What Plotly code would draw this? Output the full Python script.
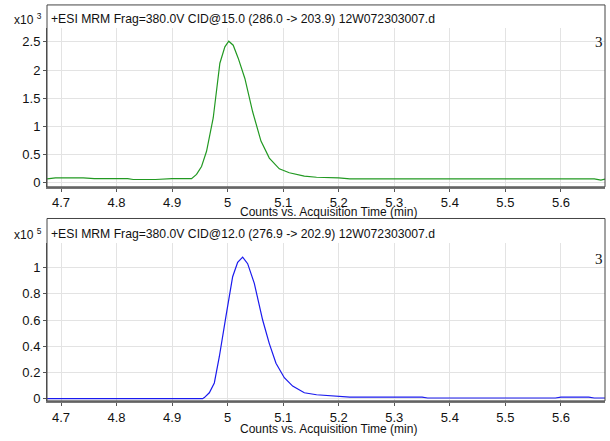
import plotly.graph_objects as go

W, H = 610, 441

# Top trace (x10^3 counts)
t_top = [4.675, 4.69, 4.74, 4.76, 4.82, 4.83, 4.87, 4.9, 4.935, 4.944, 4.953, 4.962,
         4.974, 4.986, 4.995, 5.002, 5.01, 5.019, 5.031, 5.045, 5.06, 5.075, 5.093,
         5.111, 5.138, 5.16, 5.2, 5.22, 5.3, 5.4, 5.5, 5.6, 5.66, 5.672, 5.68]
y_top = [0.07, 0.09, 0.09, 0.075, 0.075, 0.06, 0.06, 0.075, 0.075, 0.15, 0.29, 0.56,
         1.15, 2.12, 2.41, 2.51, 2.44, 2.21, 1.85, 1.26, 0.74, 0.44, 0.25,
         0.18, 0.12, 0.1, 0.09, 0.07, 0.07, 0.07, 0.07, 0.07, 0.07, 0.05, 0.07]

# Bottom trace (x10^5 counts)
t_bot = [4.675, 4.8, 4.9, 4.955, 4.958, 4.967, 4.976, 4.985, 4.997, 5.009, 5.018,
         5.027, 5.036, 5.048, 5.063, 5.075, 5.087, 5.102, 5.117, 5.138, 5.16, 5.2,
         5.22, 5.35, 5.36, 5.59, 5.6, 5.65, 5.66, 5.68]
y_bot = [0.0, 0.0, 0.0, 0.0, 0.008, 0.045, 0.12, 0.32, 0.63, 0.93, 1.04,
         1.08, 1.03, 0.88, 0.60, 0.42, 0.27, 0.16, 0.096, 0.045, 0.03, 0.02,
         0.012, 0.012, 0.005, 0.005, 0.012, 0.012, 0.005, 0.005]

titles = ["+ESI MRM Frag=380.0V CID@15.0 (286.0 -> 203.9) 12W072303007.d",
          "+ESI MRM Frag=380.0V CID@12.0 (276.9 -> 202.9) 12W072303007.d"]
exponents = ["3", "5"]
x_title = "Counts vs. Acquisition Time (min)"
x_ticks = [4.7, 4.8, 4.9, 5.0, 5.1, 5.2, 5.3, 5.4, 5.5, 5.6]
x_ticktext = ["4.7", "4.8", "4.9", "5", "5.1", "5.2", "5.3", "5.4", "5.5", "5.6"]
y_ticks_top = [0, 0.5, 1, 1.5, 2, 2.5]
y_ticktext_top = ["0", "0.5", "1", "1.5", "2", "2.5"]
y_ticks_bot = [0, 0.2, 0.4, 0.6, 0.8, 1.0]
y_ticktext_bot = ["0", "0.2", "0.4", "0.6", "0.8", "1"]

def px(x):
    return x / W

def py(y):
    return 1 - y / H

FONT = "Liberation Sans, Arial, sans-serif"

fig = go.Figure()
fig.add_trace(go.Scatter(x=t_top, y=y_top, mode="lines", line=dict(color="#229922", width=1.2),
                         xaxis="x", yaxis="y", showlegend=False))
fig.add_trace(go.Scatter(x=t_bot, y=y_bot, mode="lines", line=dict(color="#1a1aee", width=1.2),
                         xaxis="x2", yaxis="y2", showlegend=False))

xr = [4.6748, 5.6793]
xcommon = dict(range=xr, tickvals=x_ticks, ticktext=x_ticktext, showgrid=True,
               gridcolor="#e3e3e3", gridwidth=1, zeroline=False, showline=True,
               linecolor="#777777", linewidth=2, ticks="outside", ticklen=3,
               tickcolor="#555555", tickfont=dict(family=FONT, size=13, color="#111"),
               ticklabelstandoff=0,
               domain=[px(47), px(605)], fixedrange=True)
ycommon = dict(showgrid=True, gridcolor="#e3e3e3", gridwidth=1, zeroline=False,
               showline=True, linecolor="#555555", linewidth=1, ticks="outside",
               ticklen=3, tickcolor="#555555",
               tickfont=dict(family=FONT, size=13, color="#111"), fixedrange=True)

fig.update_layout(
    width=W, height=H, margin=dict(l=0, r=0, t=0, b=0),
    paper_bgcolor="white", plot_bgcolor="white",
    xaxis=dict(**xcommon, anchor="y"),
    xaxis2=dict(**xcommon, anchor="y2"),
    yaxis=dict(**ycommon, range=[-0.07, 2.75], tickvals=y_ticks_top, ticktext=y_ticktext_top,
               domain=[py(189), py(28)], anchor="x"),
    yaxis2=dict(**ycommon, range=[-0.017, 1.186], tickvals=y_ticks_bot, ticktext=y_ticktext_bot,
                domain=[py(405.5), py(246)], anchor="x2"),
)

panels = [(5, 189, 19, 214, 42), (221, 405.5, 237, 433.5, 262)]
for i, (top, bot, ty, xty, ry) in enumerate(panels):
    fig.add_shape(type="rect", xref="paper", yref="paper", x0=px(47), x1=px(605),
                  y0=py(bot), y1=py(top), line=dict(color="#444444", width=1), layer="above")
    fig.add_annotation(xref="paper", yref="paper", x=px(49), y=py(ty), xanchor="left",
                       yanchor="middle", text=titles[i], showarrow=False,
                       font=dict(family=FONT, size=12.2, color="#111"))
    fig.add_annotation(xref="paper", yref="paper", x=px(12), y=py(ty), xanchor="left",
                       yanchor="middle", text="x10 <sup>" + exponents[i] + "</sup>", showarrow=False,
                       font=dict(family=FONT, size=12, color="#111"))
    fig.add_annotation(xref="paper", yref="paper", x=px(328), y=py(xty), xanchor="center",
                       yanchor="middle", text=x_title, showarrow=False,
                       font=dict(family=FONT, size=12, color="#111"))
    fig.add_annotation(xref="paper", yref="paper", x=px(605), y=py(ry), xanchor="right",
                       yanchor="middle", text="3", showarrow=False,
                       font=dict(family="Liberation Serif", size=15, color="#111"))

fig.write_html("out.html")
